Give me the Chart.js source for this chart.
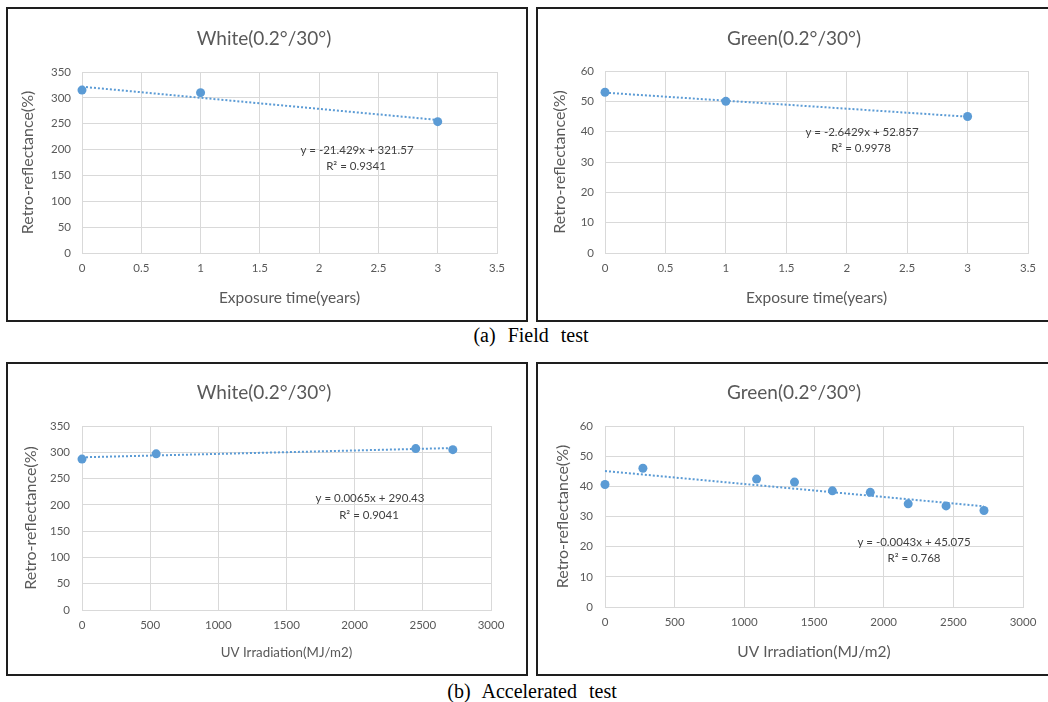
<!DOCTYPE html>
<html>
<head>
<meta charset="utf-8">
<script src="https://cdn.jsdelivr.net/npm/chart.js@4.4.1/dist/chart.umd.min.js"></script>
<style>
html,body{margin:0;padding:0;background:#fff;overflow:hidden;width:1048px;height:702px;}
.panel{position:absolute;border:2px solid #1e1e1e;background:#fff;}
.panel canvas{display:block;}
.cap{position:absolute;font-family:"Liberation Serif","Times New Roman",serif;font-size:20px;line-height:20px;word-spacing:7px;color:#000;white-space:nowrap;transform:translateX(-50%);}
</style>
</head>
<body>
<div class="panel" style="left:6px;top:7px;width:518px;height:311px"><canvas id="c1" width="518" height="311"></canvas></div>
<div class="panel" style="left:536px;top:7px;width:510px;height:311px"><canvas id="c2" width="510" height="311"></canvas></div>
<div class="panel" style="left:6px;top:362px;width:518px;height:310px"><canvas id="c3" width="518" height="310"></canvas></div>
<div class="panel" style="left:536px;top:362px;width:510px;height:310px"><canvas id="c4" width="510" height="310"></canvas></div>
<div class="cap" style="left:531px;top:325px">(a) Field test</div>
<div class="cap" style="left:532px;top:681px">(b) Accelerated test</div>
<script>
// ---- data ----
const fieldYears = [0, 1, 3];
const fieldWhite = [315, 310, 254];
const fieldGreen = [53, 50, 45];
const uvWhiteDose = [0, 544, 2448, 2720];
const uvWhite = [287, 297, 307, 305];
const uvGreenDose = [0, 272, 1088, 1360, 1632, 1904, 2176, 2448, 2720];
const uvGreen = [40.6, 46, 42.4, 41.4, 38.5, 38, 34.2, 33.5, 32];

const yearTicks = [0, 0.5, 1, 1.5, 2, 2.5, 3, 3.5];
const doseTicks = [0, 500, 1000, 1500, 2000, 2500, 3000];
const whiteTicks = [0, 50, 100, 150, 200, 250, 300, 350];
const greenTicks = [0, 10, 20, 30, 40, 50, 60];

// Excel linear trendlines as printed on the charts
const fitSlopes = [-21.429, -2.6429, 0.0065, -0.0043];
const fitIntercepts = [321.57, 52.857, 290.43, 45.075];
const fitEquations = ['y = -21.429x + 321.57', 'y = -2.6429x + 52.857', 'y = 0.0065x + 290.43', 'y = -0.0043x + 45.075'];
const fitR2 = ['R² = 0.9341', 'R² = 0.9978', 'R² = 0.9041', 'R² = 0.768'];

const chartTitles = ['White(0.2°/30°)', 'Green(0.2°/30°)', 'White(0.2°/30°)', 'Green(0.2°/30°)'];
const yTitle = 'Retro-reflectance(%)';
const xTitles = ['Exposure time(years)', 'Exposure time(years)', 'UV Irradiation(MJ/m2)', 'UV Irradiation(MJ/m2)'];

// ---- rendering ----
const FONT = "Lato, 'Open Sans', sans-serif";
const TEXT = '#595959';
const BLUE = '#5B9BD5';
const GRID = '#D9D9D9';
Chart.defaults.font.family = FONT;
Chart.defaults.color = TEXT;

const panelText = {
  id: 'panelText',
  afterDraw(chart, args, o) {
    const ctx = chart.ctx;
    (o.items || []).forEach(it => {
      ctx.save();
      ctx.font = it.size + 'px ' + FONT;
      ctx.fillStyle = it.color || TEXT;
      ctx.textAlign = 'center';
      ctx.textBaseline = 'middle';
      ctx.fillText(it.text, it.x, it.y);
      ctx.restore();
    });
  }
};
Chart.register(panelText);

function build(id, i, xs, ys, xTicks, yTicks, L) {
  const xmin = Math.min(...xs), xmax = Math.max(...xs);
  const trend = [xmin, xmax].map(x => ({x: x, y: fitSlopes[i] * x + fitIntercepts[i]}));
  new Chart(document.getElementById(id), {
    type: 'scatter',
    data: {
      datasets: [
        {data: xs.map((x, k) => ({x: x, y: ys[k]})), backgroundColor: BLUE, borderColor: BLUE,
         pointRadius: 4.5, pointBorderWidth: 0, showLine: false, clip: false},
        {data: trend, borderColor: BLUE, backgroundColor: BLUE, borderWidth: 2, borderDash: [2, 2],
         pointRadius: 0, showLine: true, fill: false, clip: false}
      ]
    },
    options: {
      responsive: false,
      animation: false,
      events: [],
      layout: {padding: L.pad},
      plugins: {
        legend: {display: false},
        tooltip: {enabled: false},
        panelText: {items: [
          {text: chartTitles[i], x: L.title[0], y: L.title[1], size: 19},
          {text: fitEquations[i], x: L.eq[0], y: L.eq[1], size: 11.5, color: '#404040'},
          {text: fitR2[i], x: L.r2[0], y: L.r2[1], size: 11.5, color: '#404040'}
        ]}
      },
      scales: {
        x: {
          type: 'linear', min: xTicks[0], max: xTicks[xTicks.length - 1],
          afterBuildTicks: s => { s.ticks = xTicks.map(v => ({value: v})); },
          afterFit: s => { s.height = L.xh; },
          grid: {color: GRID, lineWidth: 1, drawTicks: false},
          border: {color: GRID, width: 1},
          ticks: {color: TEXT, font: {size: 11.5}, padding: L.xtp, maxRotation: 0, autoSkip: false,
                  callback: v => String(v)},
          title: {display: true, text: xTitles[i], color: TEXT, font: {size: L.xts}, padding: {top: 4, bottom: 4}}
        },
        y: {
          type: 'linear', min: yTicks[0], max: yTicks[yTicks.length - 1],
          afterBuildTicks: s => { s.ticks = yTicks.map(v => ({value: v})); },
          afterFit: s => { s.width = L.yw; },
          grid: {color: GRID, lineWidth: 1, drawTicks: false},
          border: {color: GRID, width: 1},
          ticks: {color: TEXT, font: {size: 11.5}, padding: L.ytp, autoSkip: false,
                  callback: v => String(v)},
          title: {display: true, text: yTitle, color: TEXT, font: {size: 16}, padding: {top: 4, bottom: 4}}
        }
      }
    }
  });
}

build('c1', 0, fieldYears, fieldWhite, yearTicks, whiteTicks,
  {pad: {left: 6, right: 29, top: 63, bottom: 9}, yw: 68, xh: 58, xtp: 8, ytp: 11, xts: 15.5,
   title: [256, 30], eq: [349, 141], r2: [348, 157]});
build('c2', 1, fieldYears, fieldGreen, yearTicks, greenTicks,
  {pad: {left: 8, right: 20, top: 62, bottom: 9}, yw: 59, xh: 58, xtp: 8, ytp: 11, xts: 15.5,
   title: [256, 30], eq: [324, 123], r2: [323, 139]});
build('c3', 2, uvWhiteDose, uvWhite, doseTicks, whiteTicks,
  {pad: {left: 9, right: 35, top: 62, bottom: 9}, yw: 65, xh: 55, xtp: 8, ytp: 12, xts: 13.3,
   title: [256, 29], eq: [362, 134], r2: [361, 151]});
build('c4', 3, uvGreenDose, uvGreen, doseTicks, greenTicks,
  {pad: {left: 11, right: 25, top: 62, bottom: 9}, yw: 56, xh: 58, xtp: 8, ytp: 12, xts: 15.5,
   title: [256, 29], eq: [376, 178], r2: [376, 194]});
</script>
</body>
</html>
